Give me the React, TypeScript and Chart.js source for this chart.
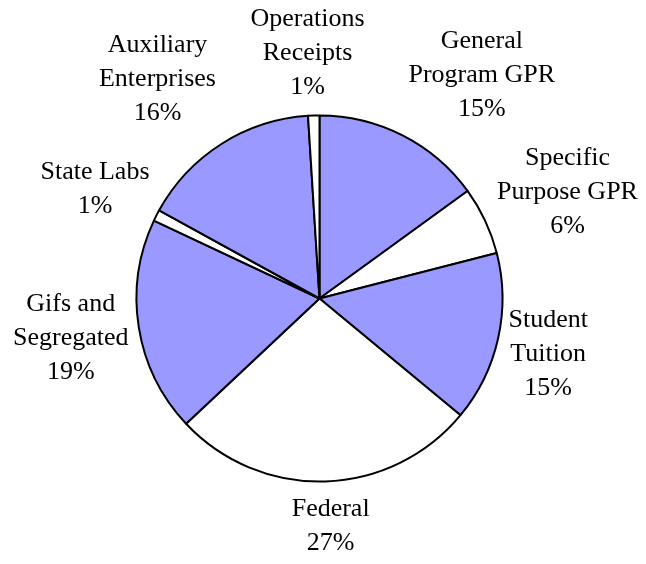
import React, { useEffect, useRef } from "react";
import { Chart, registerables } from "chart.js";

Chart.register(...registerables);

// Data (clockwise from 12 o'clock)
const categories = [
  "General\nProgram GPR",
  "Specific\nPurpose GPR",
  "Student\nTuition",
  "Federal",
  "Gifs and\nSegregated",
  "State Labs",
  "Auxiliary\nEnterprises",
  "Operations\nReceipts",
];
const values = [15, 6, 15, 27, 19, 1, 16, 1];

// Styling
const BLUE = "#9999FF";
const WHITE = "#FFFFFF";
const sliceColors = [BLUE, WHITE, BLUE, WHITE, BLUE, WHITE, BLUE, WHITE];

// Label layout tweaks (degrees of angular shift, px of gap outside the pie)
const labelAngleNudge = [9, 2, 1, -1, 0, -1, -4, -1];
const labelGap = [11, 3, 6, 11, 8, 3, 15, 11];

const FONT = "26px 'Liberation Serif', 'Times New Roman', serif";
const LINE_H = 34;

const outsideLabels = {
  id: "outsideLabels",
  afterDatasetsDraw(chart: any) {
    const ctx = chart.ctx as CanvasRenderingContext2D;
    const meta = chart.getDatasetMeta(0);
    const data = chart.data.datasets[0].data as number[];
    const total = data.reduce((a, b) => a + b, 0);
    ctx.save();
    ctx.font = FONT;
    ctx.fillStyle = "#000";
    ctx.textAlign = "center";
    ctx.textBaseline = "middle";
    meta.data.forEach((arc: any, i: number) => {
      const p = arc.getProps(["x", "y", "startAngle", "endAngle", "outerRadius"], true);
      const lines = [
        ...String(chart.data.labels[i]).split("\n"),
        Math.round((data[i] / total) * 100) + "%",
      ];
      const w = Math.max(...lines.map((l) => ctx.measureText(l).width));
      const hw = w / 2;
      const hh = (lines.length * LINE_H) / 2;
      const a = (p.startAngle + p.endAngle) / 2 + (labelAngleNudge[i] * Math.PI) / 180;
      const dx = Math.cos(a);
      const dy = Math.sin(a);
      const target = p.outerRadius + labelGap[i];
      const dist = (t: number) => {
        const cx = t * dx;
        const cy = t * dy;
        const nx = Math.max(0, Math.abs(cx) - hw);
        const ny = Math.max(0, Math.abs(cy) - hh);
        return Math.hypot(nx, ny);
      };
      let lo = 0;
      let hi = 1000;
      for (let k = 0; k < 60; k++) {
        const m = (lo + hi) / 2;
        if (dist(m) < target) lo = m;
        else hi = m;
      }
      const bx = p.x + hi * dx;
      const by = p.y + hi * dy;
      lines.forEach((line, j) => {
        const ly = by + (j - (lines.length - 1) / 2) * LINE_H;
        ctx.fillText(line, bx, ly);
      });
    });
    ctx.restore();
  },
};

export default function App() {
  const canvasRef = useRef<HTMLCanvasElement | null>(null);

  useEffect(() => {
    document.body.style.margin = "0";
    const canvas = canvasRef.current;
    if (!canvas) return;
    const chart = new Chart(canvas, {
      type: "pie",
      data: {
        labels: categories,
        datasets: [
          {
            data: values,
            backgroundColor: sliceColors,
            borderColor: "#000000",
            borderWidth: 2,
            radius: 183,
          } as any,
        ],
      },
      options: {
        responsive: false,
        animation: false,
        devicePixelRatio: 1,
        layout: { padding: { left: 0, right: 7, top: 33, bottom: 0 } },
        plugins: {
          legend: { display: false },
          tooltip: { enabled: false },
        },
      },
      plugins: [outsideLabels],
    });
    return () => chart.destroy();
  }, []);

  return (
    <div style={{ position: "absolute", left: 0, top: 0, width: 646, height: 564, background: "#fff" }}>
      <canvas ref={canvasRef} width={646} height={564} />
    </div>
  );
}
